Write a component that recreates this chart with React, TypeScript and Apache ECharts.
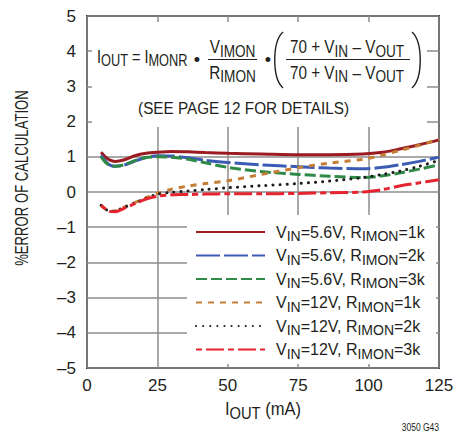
import React, { useEffect, useRef } from "react";
import * as echarts from "echarts";

const FONT = "'Liberation Sans', Arial, sans-serif";
const TXT = "#231f20";

const xValues = [5, 6.5, 8, 10, 13, 17, 21, 25, 30, 36, 42, 50, 62, 75, 86, 98, 105, 111, 118, 125];

const vin56r1k = [1.13, 1.0, 0.91, 0.87, 0.91, 1.03, 1.1, 1.13, 1.15, 1.14, 1.12, 1.1, 1.08, 1.06, 1.06, 1.08, 1.13, 1.22, 1.34, 1.48];
const vin56r2k = [1.04, 0.88, 0.77, 0.73, 0.76, 0.88, 0.98, 1.03, 1.02, 0.97, 0.9, 0.84, 0.77, 0.72, 0.68, 0.66, 0.7, 0.77, 0.87, 0.99];
const vin56r3k = [1.0, 0.85, 0.76, 0.73, 0.77, 0.89, 0.98, 1.0, 0.99, 0.93, 0.83, 0.7, 0.58, 0.5, 0.45, 0.41, 0.46, 0.54, 0.65, 0.77];
const vin12r1k = [-0.38, -0.48, -0.55, -0.54, -0.44, -0.3, -0.16, -0.04, 0.08, 0.17, 0.24, 0.32, 0.5, 0.69, 0.82, 0.93, 1.05, 1.18, 1.33, 1.5];
const vin12r2k = [-0.38, -0.48, -0.55, -0.54, -0.44, -0.31, -0.18, -0.06, -0.01, 0.03, 0.07, 0.12, 0.18, 0.24, 0.31, 0.41, 0.5, 0.59, 0.73, 0.9];
const vin12r3k = [-0.38, -0.48, -0.55, -0.56, -0.47, -0.33, -0.2, -0.12, -0.08, -0.07, -0.06, -0.05, -0.05, -0.04, -0.02, 0.0, 0.07, 0.17, 0.26, 0.35];

const seriesNames = ["s1", "s2", "s3", "s4", "s5", "s6"];
const legendLabels = [
  "{m|V}{s|IN}{m|=5.6V, R}{s|IMON}{m|=1k}",
  "{m|V}{s|IN}{m|=5.6V, R}{s|IMON}{m|=2k}",
  "{m|V}{s|IN}{m|=5.6V, R}{s|IMON}{m|=3k}",
  "{m|V}{s|IN}{m|=12V, R}{s|IMON}{m|=1k}",
  "{m|V}{s|IN}{m|=12V, R}{s|IMON}{m|=2k}",
  "{m|V}{s|IN}{m|=12V, R}{s|IMON}{m|=3k}",
];
const seriesData = [vin56r1k, vin56r2k, vin56r3k, vin12r1k, vin12r2k, vin12r3k];
const seriesColors = ["#9b1b22", "#3c5bb4", "#2f8a48", "#c47e36", "#1e1e1e", "#e42530"];
const seriesDash: any[] = ["solid", [24, 4], [11, 4], [6, 6], [0.1, 7], [6, 4, 18, 4]];
const seriesCap = ["butt", "butt", "butt", "butt", "round", "butt"];

const xTicks = { min: 0, max: 125, interval: 25 };
const yTicks = { min: -5, max: 5, interval: 1 };

const legendRich = {
  m: { fontSize: 16, fontFamily: FONT, color: TXT, lineHeight: 20 },
  s: { fontSize: 14, fontFamily: FONT, color: TXT, lineHeight: 12, padding: [8, 0, 0, 0] },
};
const rich = {
  m: { fontSize: 18, fontFamily: FONT, fill: TXT, color: TXT, lineHeight: 20 },
  s: { fontSize: 16, fontFamily: FONT, fill: TXT, color: TXT, lineHeight: 14, padding: [8, 0, 0, 0] },
};

export default function App() {
  const ref = useRef<HTMLDivElement>(null);
  useEffect(() => {
    const chart = echarts.init(ref.current!, null, { renderer: "svg" });
    const series = seriesNames.map((name, i) => ({
      name,
      type: "line",
      data: xValues.map((x, j) => [x, seriesData[i][j]]),
      smooth: 0.3,
      symbol: "none",
      z: 10 + i,
      lineStyle: { color: seriesColors[i], width: 3, type: seriesDash[i], cap: seriesCap[i] },
      itemStyle: { color: seriesColors[i] },
    }));
    const gridLine = { show: true, lineStyle: { color: "#8c8c8c", width: 1.5 } };
    const FS = 0.85;
    chart.setOption({
      animation: false,
      backgroundColor: "#fff",
      grid: { left: 87, top: 16, width: 352, height: 352, show: true, borderColor: "#333", borderWidth: 2, backgroundColor: "transparent" },
      xAxis: {
        type: "value",
        ...xTicks,
        axisLine: { show: false },
        axisTick: { show: false },
        splitLine: gridLine,
        axisLabel: { fontFamily: FONT, fontSize: 17, color: TXT, margin: 9 },
      },
      yAxis: {
        type: "value",
        ...yTicks,
        axisLine: { show: false },
        axisTick: { show: false },
        splitLine: gridLine,
        axisLabel: {
          fontFamily: FONT,
          fontSize: 17,
          color: TXT,
          margin: 11,
          formatter: (v: number) => (v < 0 ? "\u2013" + Math.abs(v) : String(v)),
        },
      },
      legend: {
        orient: "vertical",
        left: 195,
        top: 221,
        padding: 0,
        itemWidth: 69,
        itemHeight: 12,
        itemGap: 1.5,
        data: seriesNames,
        itemStyle: { opacity: 0 },
        formatter: (name: string) => legendLabels[seriesNames.indexOf(name)],
        textStyle: { rich: legendRich, padding: [0, 0, 0, 6] },
      },
      graphic: [
        { type: "rect", z: 1, shape: { x: 92, y: 22, width: 335, height: 105 }, style: { fill: "#fff" } },
        { type: "rect", z: 1, shape: { x: 187, y: 215, width: 249, height: 149 }, style: { fill: "#fff" } },
        { type: "text", z: 100, x: 97, y: 56, scaleX: 0.8, style: { text: "{m|I}{s|OUT}{m| = I}{s|MONR}", rich, verticalAlign: "middle" } },
        { type: "text", z: 100, x: 197, y: 60, style: { text: "\u2022", fontSize: 18, fontFamily: FONT, fill: TXT, align: "center", verticalAlign: "middle" } },
        { type: "text", z: 100, x: 232.5, y: 47.5, scaleX: FS, style: { text: "{m|V}{s|IMON}", rich, align: "center", verticalAlign: "middle" } },
        { type: "line", z: 100, shape: { x1: 208, y1: 59.5, x2: 257, y2: 59.5 }, style: { stroke: TXT, lineWidth: 1.2 } },
        { type: "text", z: 100, x: 232.5, y: 73, scaleX: FS, style: { text: "{m|R}{s|IMON}", rich, align: "center", verticalAlign: "middle" } },
        { type: "text", z: 100, x: 268, y: 60, style: { text: "\u2022", fontSize: 18, fontFamily: FONT, fill: TXT, align: "center", verticalAlign: "middle" } },
        { type: "bezierCurve", z: 100, shape: { x1: 283, y1: 32, x2: 283, y2: 88, cpx1: 272, cpy1: 42, cpx2: 272, cpy2: 78 }, style: { stroke: TXT, lineWidth: 1.4, fill: "none" } },
        { type: "text", z: 100, x: 347, y: 47.5, scaleX: FS, style: { text: "{m|70 + V}{s|IN}{m| \u2013 V}{s|OUT}", rich, align: "center", verticalAlign: "middle" } },
        { type: "line", z: 100, shape: { x1: 286, y1: 59.5, x2: 410, y2: 59.5 }, style: { stroke: TXT, lineWidth: 1.2 } },
        { type: "text", z: 100, x: 347, y: 73, scaleX: FS, style: { text: "{m|70 + V}{s|IN}{m| \u2013 V}{s|OUT}", rich, align: "center", verticalAlign: "middle" } },
        { type: "bezierCurve", z: 100, shape: { x1: 412, y1: 32, x2: 412, y2: 88, cpx1: 423, cpy1: 42, cpx2: 423, cpy2: 78 }, style: { stroke: TXT, lineWidth: 1.4, fill: "none" } },
        { type: "text", z: 100, x: 243.5, y: 108, scaleX: 0.9, style: { text: "(SEE PAGE 12 FOR DETAILS)", fontSize: 17, fontFamily: FONT, fill: TXT, align: "center", verticalAlign: "middle" } },
        { type: "text", z: 100, x: 22, y: 178, rotation: Math.PI / 2, scaleX: 0.73, style: { text: "%ERROR OF CALCULATION", fontSize: 18, fontFamily: FONT, fill: TXT, align: "center", verticalAlign: "middle" } },
        { type: "text", z: 100, x: 263, y: 409, scaleX: 0.92, style: { text: "{m|I}{s|OUT}{m| (mA)}", rich, align: "center", verticalAlign: "middle" } },
        { type: "text", z: 100, x: 439, y: 428, scaleX: 0.85, style: { text: "3050 G43", fontSize: 10, fontFamily: FONT, fill: TXT, align: "right", verticalAlign: "middle" } },
      ],
      series,
    });
    return () => chart.dispose();
  }, []);
  return <div ref={ref} style={{ position: "absolute", left: 0, top: 0, width: 457, height: 434 }} />;
}
